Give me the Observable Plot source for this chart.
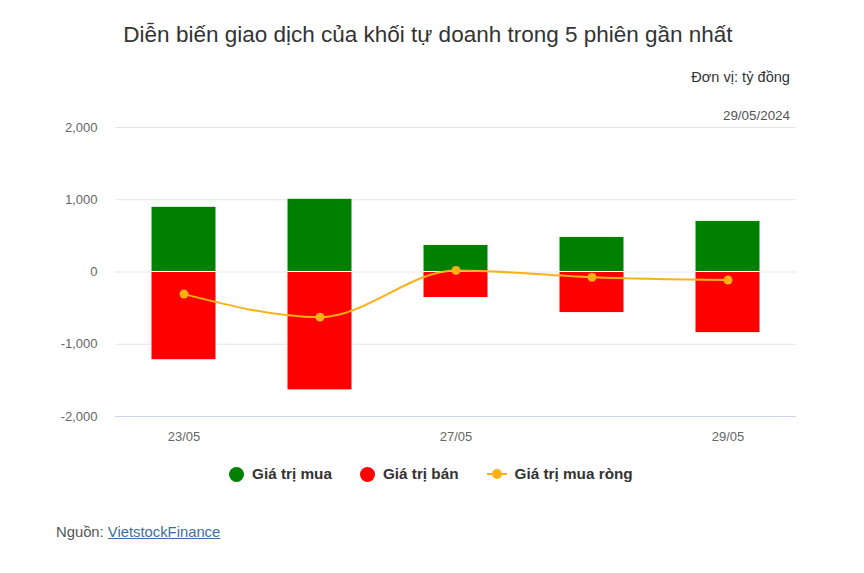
<!DOCTYPE html>
<html><head><meta charset="utf-8">
<script src="https://cdn.jsdelivr.net/npm/d3@7"></script>
<script src="https://cdn.jsdelivr.net/npm/@observablehq/plot@0.6"></script>
<style>
body{margin:0;background:#fff;font-family:"Liberation Sans",Arial,sans-serif;}
#wrap{position:relative;width:864px;height:573px;overflow:hidden;}
.abs{position:absolute;white-space:nowrap;}
#title{left:-4px;width:864px;top:22px;text-align:center;font-size:22.5px;color:#333;}
#unit{right:74px;top:69px;font-size:14.6px;color:#333;}
#date{right:74px;top:108px;font-size:13.4px;color:#555;}
#chart{left:0;top:100px;}
#legend{top:465px;left:229px;font-size:15.3px;font-weight:bold;color:#333;display:flex;align-items:center;}
.li{display:flex;align-items:center;margin-right:28px;}
.sw{width:15px;height:15px;border-radius:50%;margin-right:8px;}
.ln{position:relative;width:20px;height:15px;margin-right:8px;}
.ln:before{content:"";position:absolute;left:0;right:0;top:6px;height:2px;background:#f9b115;}
.ln:after{content:"";position:absolute;left:5px;top:2px;width:10px;height:10px;border-radius:50%;background:#f9b115;}
#source{left:56px;top:524px;font-size:14.8px;color:#555;}
#source a{color:#3b6ea5;text-decoration:underline;}
</style></head>
<body><div id="wrap">
<div id="title" class="abs">Diễn biến giao dịch của khối tự doanh trong 5 phiên gần nhất</div>
<div id="unit" class="abs">Đơn vị: tỷ đồng</div>
<div id="date" class="abs">29/05/2024</div>
<div id="chart" class="abs"></div>
<div id="legend" class="abs">
<div class="li"><div class="sw" style="background:#008000"></div>Giá trị mua</div>
<div class="li"><div class="sw" style="background:#ff0000"></div>Giá trị bán</div>
<div class="li"><div class="ln"></div>Giá trị mua ròng</div>
</div>
<div id="source" class="abs">Nguồn: <a href="#">VietstockFinance</a></div>
</div>
<script>
const dates = ["23/05", "24/05", "27/05", "28/05", "29/05"];
const buyValues = [903, 1014, 375, 486, 708];
const sellValues = [-1222, -1639, -361, -569, -847];
const netValues = [-306, -625, 22, -72, -112];
const yTicks = [-2000, -1000, 0, 1000, 2000];
const shownDates = ["23/05", "27/05", "29/05"];

const rows = dates.map((d, i) => ({date: d, buy: buyValues[i], sell: sellValues[i], net: netValues[i]}));
const fmt = v => v.toLocaleString("en-US");

const chart = Plot.plot({
  width: 864,
  height: 350,
  marginLeft: 115,
  marginRight: 68,
  marginTop: 27,
  marginBottom: 34,
  style: {fontFamily: "'Liberation Sans', Arial, sans-serif", fontSize: "13px", color: "#666", background: "transparent"},
  x: {domain: dates, paddingInner: 0.52, paddingOuter: 0.26, label: null},
  y: {domain: [-2000, 2000], label: null},
  marks: [
    Plot.ruleY(yTicks.filter(t => t > -2000), {stroke: "#e6e6e6", strokeWidth: 1}),
    Plot.ruleY([-2000], {stroke: "#ccd6eb", strokeWidth: 1}),
    Plot.axisY(yTicks, {tickSize: 0, tickPadding: 18, tickFormat: fmt, fill: "#666", fontSize: 13}),
    Plot.axisX({tickSize: 0, tickPadding: 15, tickFormat: d => shownDates.includes(d) ? d : "", fill: "#666", fontSize: 13}),
    Plot.barY(rows, {x: "date", y: "buy", fill: "#008000", stroke: "#fff", strokeWidth: 1}),
    Plot.barY(rows, {x: "date", y: "sell", fill: "#ff0000", stroke: "#fff", strokeWidth: 1}),
    Plot.line(rows, {x: "date", y: "net", stroke: "#f9b115", strokeWidth: 2, curve: "monotone-x"}),
    Plot.dot(rows, {x: "date", y: "net", fill: "#f9b115", r: 4.5})
  ]
});
document.getElementById("chart").appendChild(chart);
</script>
</body></html>
